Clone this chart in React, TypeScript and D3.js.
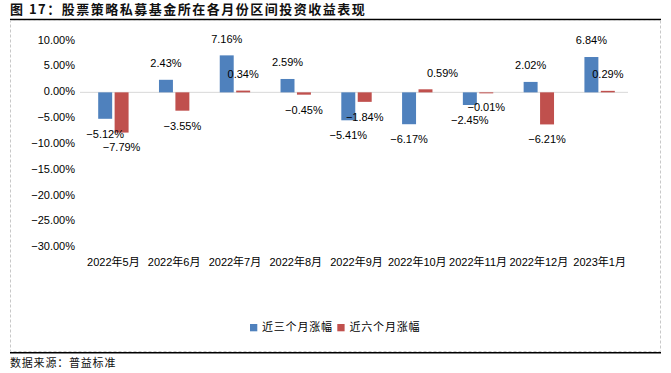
import * as d3 from 'd3';

const months = ['2022年5月', '2022年6月', '2022年7月', '2022年8月', '2022年9月', '2022年10月', '2022年11月', '2022年12月', '2023年1月'];
const threeMonth = [-5.12, 2.43, 7.16, 2.59, -5.41, -6.17, -2.45, 2.02, 6.84];
const sixMonth = [-7.79, -3.55, 0.34, -0.45, -1.84, 0.59, -0.01, -6.21, 0.29];
const seriesNames = ['近三个月涨幅', '近六个月涨幅'];
const seriesColors = ['#4F81BD', '#C0504D'];
const yTicks = [10, 5, 0, -5, -10, -15, -20, -25, -30];

const W = 671;
const H = 373;
const numFont = '"Liberation Sans", Arial, "Noto Sans CJK SC", sans-serif';
const cjkFont = '"Noto Sans CJK SC", sans-serif';

export default function App() {
  const x = d3.scaleBand<string>().domain(months).range([83, 630]).paddingInner(0.5).paddingOuter(0.25);
  const sub = d3.scaleBand<number>().domain([0, 1]).range([0, x.bandwidth()]).paddingInner(0.15);
  const y = d3.scaleLinear().domain([-30, 10]).range([247.3, 40.7]);
  const fmt = (v: number) => d3.format('.2f')(v) + '%';
  const series = [threeMonth, sixMonth];

  return (
    <svg width={W} height={H} style={{ position: 'absolute', left: 0, top: 0, background: '#fff' }}>
      {/* title */}
      <text x={10} y={14} fontSize={13} fontWeight="bold" fontFamily={cjkFont} letterSpacing={1.5} fill="#111">
        图 17：股票策略私募基金所在各月份区间投资收益表现
      </text>
      <line x1={10} x2={661} y1={19.5} y2={19.5} stroke="#000" strokeWidth={1.5} />

      {/* chart frame */}
      <rect x={10.5} y={20.5} width={650} height={331} fill="none" stroke="#c8c8c8" strokeDasharray="3,2" />

      {/* y tick labels */}
      {yTicks.map((t) => (
        <text key={t} x={75} y={y(t)} textAnchor="end" dominantBaseline="middle" fontSize={11} fontFamily={numFont} fill="#000">
          {fmt(t)}
        </text>
      ))}

      {/* zero line */}
      <line x1={80} x2={628} y1={y(0)} y2={y(0)} stroke="#d9d9d9" strokeWidth={1} />

      {/* bars */}
      {months.map((m, i) => (
        <g key={m} transform={`translate(${x(m)},0)`}>
          {series.map((vals, s) => {
            const v = vals[i];
            return (
              <rect
                key={s}
                x={sub(s)}
                y={Math.min(y(v), y(0))}
                width={sub.bandwidth()}
                height={Math.max(Math.abs(y(v) - y(0)), 1)}
                fill={seriesColors[s]}
              />
            );
          })}
        </g>
      ))}

      {/* data labels */}
      {months.map((m, i) => (
        <g key={`lbl-${m}`}>
          {series.map((vals, s) => {
            const v = vals[i];
            const cx = (x(m) as number) + (sub(s) as number) + sub.bandwidth() / 2;
            const dx = s === 1 && i === 5 ? 17 : 0;
            const ly = v >= 0 ? y(v) - 15.5 : y(v) + 16;
            return (
              <text key={s} x={cx + dx} y={ly} textAnchor="middle" dominantBaseline="middle" fontSize={11} fontFamily={numFont} fill="#000">
                {fmt(v)}
              </text>
            );
          })}
        </g>
      ))}

      {/* x labels */}
      {months.map((m) => (
        <text key={`x-${m}`} x={(x(m) as number) + x.bandwidth() / 2} y={263} textAnchor="middle" dominantBaseline="middle" fontSize={11} fontFamily={numFont} fill="#000">
          {m}
        </text>
      ))}

      {/* legend */}
      <g>
        <rect x={250} y={324} width={7.3} height={7.3} fill={seriesColors[0]} />
        <text x={262} y={328} dominantBaseline="middle" fontSize={11} fontFamily={cjkFont} letterSpacing={0.8} fill="#000">
          {seriesNames[0]}
        </text>
        <rect x={337.3} y={324} width={7.3} height={7.3} fill={seriesColors[1]} />
        <text x={349.5} y={328} dominantBaseline="middle" fontSize={11} fontFamily={cjkFont} letterSpacing={0.8} fill="#000">
          {seriesNames[1]}
        </text>
      </g>

      {/* footer */}
      <line x1={10} x2={661} y1={352.8} y2={352.8} stroke="#000" strokeWidth={1.5} />
      <text x={10} y={364} dominantBaseline="middle" fontSize={11} fontFamily={cjkFont} letterSpacing={0.8} fill="#111">
        数据来源：普益标准
      </text>
    </svg>
  );
}
